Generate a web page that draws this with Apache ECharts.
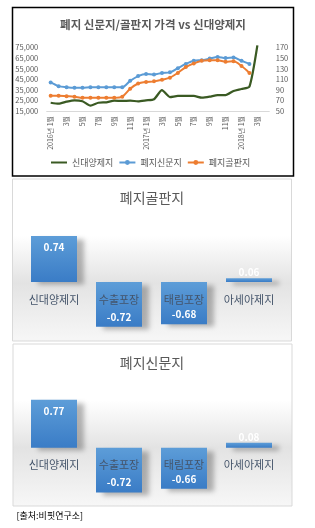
<!DOCTYPE html>
<html>
<head>
<meta charset="utf-8">
<script src="https://cdn.jsdelivr.net/npm/echarts@6/dist/echarts.min.js"></script>
<style>
  html, body { margin: 0; padding: 0; background: #fff; }
  #chart { width: 315px; height: 528px; }
</style>
</head>
<body>
<div id="chart"></div>
<script>
// 월별 (2016.1 ~ 2018.4)
var months = [
  '2016년 1월', '2월', '3월', '4월', '5월', '6월', '7월', '8월', '9월', '10월', '11월', '12월',
  '2017년 1월', '2월', '3월', '4월', '5월', '6월', '7월', '8월', '9월', '10월', '11월', '12월',
  '2018년 1월', '2월', '3월', '4월'
];
// 신대양제지 주가 (좌축)
var shinPrice = [22800, 21900, 23800, 25100, 24200, 20000, 22800, 23200, 24700, 24500, 24700, 24200,
  25100, 26100, 34800, 28200, 29200, 29200, 29200, 27600, 28500, 30100, 30100, 33900,
  35800, 38000, 77000, null];
// 폐지신문지 (우축)
var newsPrice = [104, 97, 95, 94, 94, 95, 95, 95, 95, 95, 107, 116,
  120, 119, 122, 123, 131, 139, 145, 146, 149, 152, 150, 151,
  145, 139, null, null];
// 폐지골판지 (우축)
var boxPrice = [79, 79, 78, 77, 75, 75, 75, 75, 75, 77, 92, 102,
  105, 106, 109, 113, 122, 133, 140, 145, 146, 146, 143, 144,
  135, 122, null, null];

var leftAxis = { min: 15000, max: 75000, interval: 10000 };
var rightAxis = { min: 50, max: 170, interval: 20 };

// 상관계수
var corrNames = ['신대양제지', '수출포장', '태림포장', '아세아제지'];
var corrBox = [0.74, -0.72, -0.68, 0.06];
var corrNews = [0.77, -0.72, -0.66, 0.08];

var myChart = echarts.init(document.getElementById('chart'));

var barColor = new echarts.graphic.LinearGradient(0, 0, 0, 1, [
  { offset: 0, color: '#5d9dd8' },
  { offset: 1, color: '#3a7cc6' }
]);

function panelFill() {
  return new echarts.graphic.LinearGradient(0, 0, 0, 1, [
    { offset: 0, color: '#ffffff' },
    { offset: 0.35, color: '#ffffff' },
    { offset: 0.64, color: '#e3e3e3' },
    { offset: 1, color: '#f7f7f7' }
  ]);
}

function barData(list) {
  return list.map(function (v) {
    var pos, dist;
    if (v < 0) { pos = 'insideBottom'; dist = 5; }
    else if (v < 0.2) { pos = 'top'; dist = 1; }
    else { pos = 'insideTop'; dist = 6; }
    return { value: v, label: { position: pos, distance: dist } };
  });
}

function barSeries(data, idx) {
  return {
    type: 'bar',
    xAxisIndex: idx,
    yAxisIndex: idx + 1,
    barWidth: 46,
    data: barData(data),
    itemStyle: {
      color: barColor,
      shadowColor: 'rgba(0,0,0,0.28)',
      shadowBlur: 5,
      shadowOffsetX: 7,
      shadowOffsetY: 3
    },
    label: {
      show: true,
      color: '#fff',
      fontSize: 10,
      fontWeight: 'bold',
      formatter: function (p) { return p.value.toFixed(2); }
    }
  };
}

function corrXAxis(idx) {
  return {
    gridIndex: idx,
    type: 'category',
    data: corrNames,
    z: 10,
    position: 'bottom',
    offset: -49.75,
    axisLine: { show: true, onZero: true, lineStyle: { color: 'rgba(0,0,0,0)' } },
    axisTick: { show: false },
    axisLabel: { interval: 0, fontSize: 11, color: '#44546a', margin: 12 }
  };
}

function corrYAxis(idx) {
  return {
    gridIndex: idx, min: -0.8, max: 0.8,
    axisLine: { show: false }, axisTick: { show: false },
    axisLabel: { show: false }, splitLine: { show: false }
  };
}

var option = {
  textStyle: { fontFamily: "'Noto Sans CJK KR', sans-serif" },
  animation: false,
  title: [
    {
      text: '폐지 신문지/골판지 가격 vs 신대양제지',
      left: 153, top: 18.5, textAlign: 'center', padding: 0,
      textStyle: { fontSize: 11.5, fontWeight: 'bold', color: '#595959' }
    },
    {
      text: '폐지골판지',
      left: 152, top: 191, textAlign: 'center', padding: 0,
      textStyle: { fontSize: 14, fontWeight: 'normal', color: '#595959' }
    },
    {
      text: '폐지신문지',
      left: 152, top: 356, textAlign: 'center', padding: 0,
      textStyle: { fontSize: 14, fontWeight: 'normal', color: '#595959' }
    }
  ],
  graphic: [
    { type: 'rect', z: -1, shape: { x: 12.5, y: 7.5, width: 281, height: 168.5 },
      style: { fill: '#fff', stroke: '#000', lineWidth: 1.5 } },
    { type: 'rect', z: -1, shape: { x: 12.5, y: 179, width: 279, height: 162 },
      style: { fill: panelFill(), stroke: '#d9d9d9', lineWidth: 1 } },
    { type: 'rect', z: -1, shape: { x: 13, y: 344, width: 279, height: 162 },
      style: { fill: panelFill(), stroke: '#d9d9d9', lineWidth: 1 } },
    { type: 'text', z: 5,
      style: { text: '[출처:비핏연구소]', x: 16.5, y: 515.7, fill: '#000',
        font: "9px 'Noto Sans CJK KR'", verticalAlign: 'middle', textVerticalAlign: 'middle' } }
  ],
  legend: {
    data: [
      { name: '신대양제지', itemStyle: { opacity: 0 } },
      '폐지신문지',
      '폐지골판지'
    ],
    left: 50,
    top: 158,
    padding: 0,
    itemWidth: 16,
    itemHeight: 6,
    itemGap: 5,
    textStyle: { fontSize: 9, color: '#595959' }
  },
  grid: [
    { left: 46.7, top: 47.5, width: 222.6, height: 63.5 },
    { left: 21.5, top: 232.2, width: 260, height: 99.5 },
    { left: 21.5, top: 398, width: 260, height: 99.5 }
  ],
  xAxis: [
    {
      gridIndex: 0,
      type: 'category',
      data: months,
      axisLine: { lineStyle: { color: '#d9d9d9' } },
      axisTick: { show: false },
      axisLabel: { interval: 1, rotate: 90, fontSize: 7, color: '#595959', margin: 5 }
    },
    corrXAxis(1),
    corrXAxis(2)
  ],
  yAxis: [
    {
      gridIndex: 0,
      min: leftAxis.min, max: leftAxis.max, interval: leftAxis.interval,
      axisLine: { show: false }, axisTick: { show: false }, splitLine: { show: false },
      axisLabel: { fontSize: 7.5, color: '#595959', margin: 8.5 }
    },
    {
      gridIndex: 0, position: 'right',
      min: rightAxis.min, max: rightAxis.max, interval: rightAxis.interval,
      axisLine: { show: false }, axisTick: { show: false }, splitLine: { show: false },
      axisLabel: { fontSize: 7.5, color: '#595959', margin: 6.5 }
    },
    corrYAxis(1),
    corrYAxis(2)
  ],
  series: [
    {
      name: '신대양제지',
      type: 'line',
      xAxisIndex: 0, yAxisIndex: 0,
      data: shinPrice,
      symbol: 'none',
      smooth: 0.2,
      clip: false,
      lineStyle: { color: '#3a5a23', width: 2.25 },
      itemStyle: { color: '#3a5a23' }
    },
    {
      name: '폐지신문지',
      type: 'line',
      xAxisIndex: 0, yAxisIndex: 1,
      data: newsPrice,
      symbol: 'circle',
      symbolSize: 4,
      smooth: 0.3,
      lineStyle: { color: '#5b9bd5', width: 2 },
      itemStyle: { color: '#5b9bd5' }
    },
    {
      name: '폐지골판지',
      type: 'line',
      xAxisIndex: 0, yAxisIndex: 1,
      data: boxPrice,
      symbol: 'circle',
      symbolSize: 4,
      smooth: 0.3,
      lineStyle: { color: '#ed7d31', width: 2 },
      itemStyle: { color: '#ed7d31' }
    },
    barSeries(corrBox, 1),
    barSeries(corrNews, 2)
  ]
};

myChart.setOption(option);
</script>
</body>
</html>
